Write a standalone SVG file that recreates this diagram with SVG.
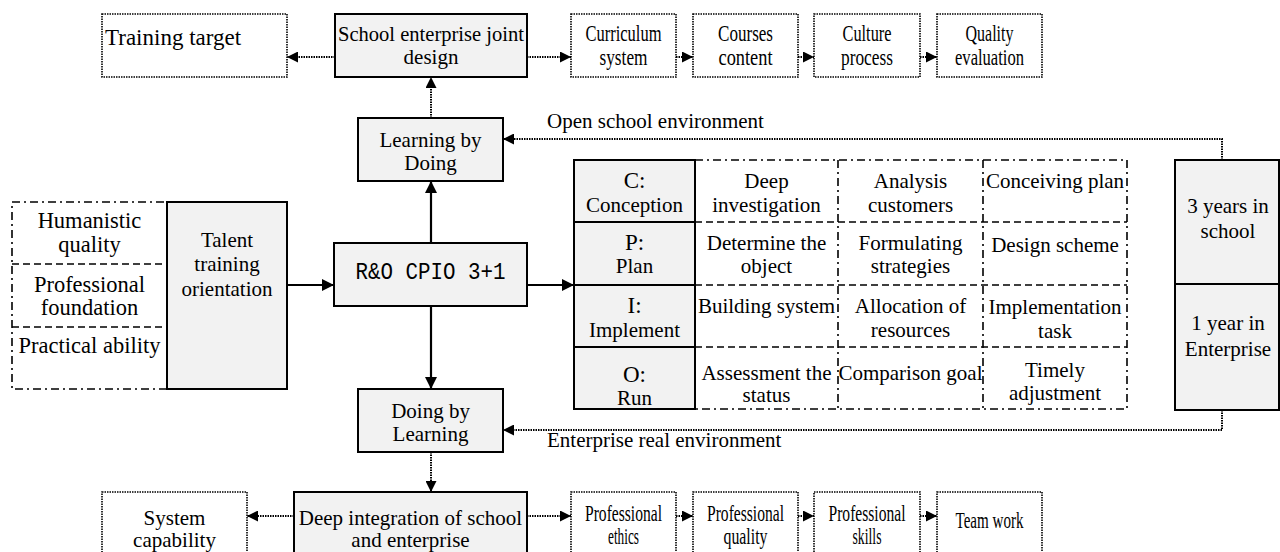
<svg xmlns="http://www.w3.org/2000/svg" width="1280" height="552" viewBox="0 0 1280 552">
<defs>
<marker id="ah" viewBox="0 0 10 10" refX="10" refY="5" markerWidth="11" markerHeight="11" markerUnits="userSpaceOnUse" orient="auto">
<path d="M0,0 L10,5 L0,10 z" fill="#000"/>
</marker>
<marker id="ahb" viewBox="0 0 10 10" refX="10" refY="5" markerWidth="12" markerHeight="12" markerUnits="userSpaceOnUse" orient="auto">
<path d="M0,0 L10,5 L0,10 z" fill="#000"/>
</marker>
</defs>
<style>
text{font-family:'Liberation Serif','Tinos','DejaVu Serif',serif;font-size:21px;fill:#000;text-anchor:middle}
.big{font-size:23px}
.grp{font-size:22.5px}
.lft{text-anchor:start}
.mono{font-family:'Liberation Mono','DejaVu Sans Mono',monospace;font-size:23px}
.dotbox{fill:#fff;stroke:#000;stroke-width:1.6;stroke-dasharray:1.5 1}
.solid{fill:#f2f2f2;stroke:#000;stroke-width:2}
.dashdot{fill:none;stroke:#000;stroke-width:1.6;stroke-dasharray:8 4 2 4}
.dash{fill:none;stroke:#000;stroke-width:1.6;stroke-dasharray:7 4}
.sl{fill:none;stroke:#000;stroke-width:2}
.dc{fill:none;stroke:#000;stroke-width:2;stroke-dasharray:1.5 1;marker-end:url(#ah)}
.sc{fill:none;stroke:#000;stroke-width:2.2;marker-end:url(#ahb)}
</style>
<rect width="1280" height="552" fill="#fff"/>

<g id="connectors">
<line class="dc" x1="335" y1="57" x2="287" y2="57"/>
<line class="dc" x1="527" y1="57" x2="571" y2="57"/>
<line class="dc" x1="676" y1="57" x2="693" y2="57"/>
<line class="dc" x1="798" y1="57" x2="814" y2="57"/>
<line class="dc" x1="920" y1="57" x2="937" y2="57"/>
<line class="dc" x1="431" y1="118" x2="431" y2="77"/>
<line class="sc" x1="431" y1="243" x2="431" y2="181"/>
<line class="sc" x1="431" y1="306" x2="431" y2="389"/>
<line class="sc" x1="287" y1="285" x2="334" y2="285"/>
<line class="sc" x1="527" y1="285" x2="574" y2="285"/>
<polyline class="dc" points="1222,160 1222,139 503,139"/>
<polyline class="dc" points="1222,410 1222,430 503,430"/>
<line class="dc" x1="431" y1="452" x2="431" y2="492"/>
<line class="dc" x1="294" y1="516" x2="247" y2="516"/>
<line class="dc" x1="527" y1="516" x2="571" y2="516"/>
<line class="dc" x1="676" y1="516" x2="693" y2="516"/>
<line class="dc" x1="798" y1="516" x2="814" y2="516"/>
<line class="dc" x1="920" y1="516" x2="937" y2="516"/>
<text class="lft" x="547" y="128">Open school environment</text>
<text class="lft" x="547" y="447">Enterprise real environment</text>
</g>

<g id="training-target">
<rect class="dotbox" x="102" y="14" width="185" height="63"/>
<text class="big lft" x="105" y="45">Training target</text>
</g>
<g id="school-enterprise-design">
<rect class="solid" x="335" y="14" width="192" height="63"/>
<text x="431" y="41" textLength="186" lengthAdjust="spacingAndGlyphs">School enterprise joint</text>
<text x="431" y="64">design</text>
</g>
<g id="curriculum-system">
<rect class="dotbox" x="571" y="14" width="105" height="63"/>
<text class="big" x="623.5" y="41" textLength="76" lengthAdjust="spacingAndGlyphs">Curriculum</text>
<text class="big" x="623.5" y="65" textLength="48" lengthAdjust="spacingAndGlyphs">system</text>
</g>
<g id="courses-content">
<rect class="dotbox" x="693" y="14" width="105" height="63"/>
<text class="big" x="745.5" y="41" textLength="55" lengthAdjust="spacingAndGlyphs">Courses</text>
<text class="big" x="745.5" y="65" textLength="54" lengthAdjust="spacingAndGlyphs">content</text>
</g>
<g id="culture-process">
<rect class="dotbox" x="814" y="14" width="106" height="63"/>
<text class="big" x="867" y="41" textLength="49" lengthAdjust="spacingAndGlyphs">Culture</text>
<text class="big" x="867" y="65" textLength="52" lengthAdjust="spacingAndGlyphs">process</text>
</g>
<g id="quality-evaluation">
<rect class="dotbox" x="937" y="14" width="105" height="63"/>
<text class="big" x="989.5" y="41" textLength="48" lengthAdjust="spacingAndGlyphs">Quality</text>
<text class="big" x="989.5" y="65" textLength="69" lengthAdjust="spacingAndGlyphs">evaluation</text>
</g>

<g id="learning-by-doing">
<rect class="solid" x="358" y="118" width="145" height="63"/>
<text x="430.5" y="147">Learning by</text>
<text x="430.5" y="170">Doing</text>
</g>
<g id="doing-by-learning">
<rect class="solid" x="358" y="389" width="145" height="63"/>
<text x="430.5" y="418">Doing by</text>
<text x="430.5" y="441">Learning</text>
</g>
<g id="rno-cpio">
<rect class="solid" x="334" y="243" width="193" height="63"/>
<text class="mono" x="430.5" y="279" textLength="150" lengthAdjust="spacingAndGlyphs">R&amp;O CPIO 3+1</text>
</g>

<g id="talent-attributes">
<rect class="dashdot" x="12" y="202" width="155" height="187"/>
<line class="dash" x1="12" y1="264" x2="167" y2="264"/>
<line class="dash" x1="12" y1="327" x2="167" y2="327"/>
<text class="grp" x="89.5" y="228">Humanistic</text>
<text class="grp" x="89.5" y="252">quality</text>
<text class="grp" x="89.5" y="292">Professional</text>
<text class="grp" x="89.5" y="315">foundation</text>
<text class="grp" x="89.5" y="353">Practical ability</text>
</g>
<g id="talent-training">
<rect class="solid" x="167" y="202" width="120" height="187"/>
<text x="227" y="247">Talent</text>
<text x="227" y="271">training</text>
<text x="227" y="296">orientation</text>
</g>

<g id="cpio-table">
<rect class="solid" x="574" y="160" width="121" height="249"/>
<line class="sl" x1="574" y1="222" x2="695" y2="222"/>
<line class="sl" x1="574" y1="285" x2="695" y2="285"/>
<line class="sl" x1="574" y1="347" x2="695" y2="347"/>
<path class="dashdot" d="M695,160 H1127 V409 H695"/>
<line class="dashdot" x1="838" y1="160" x2="838" y2="409"/>
<line class="dashdot" x1="983" y1="160" x2="983" y2="409"/>
<line class="dash" x1="695" y1="222" x2="1127" y2="222"/>
<line class="dash" x1="695" y1="285" x2="1127" y2="285"/>
<line class="dash" x1="695" y1="347" x2="1127" y2="347"/>
<text class="big" x="634.5" y="188">C:</text>
<text x="634.5" y="212">Conception</text>
<text class="big" x="634.5" y="250">P:</text>
<text x="634.5" y="273">Plan</text>
<text class="big" x="634.5" y="313">I:</text>
<text x="634.5" y="337">Implement</text>
<text class="big" x="634.5" y="382">O:</text>
<text x="634.5" y="405">Run</text>
<text x="766.5" y="380">Assessment the</text>
<text x="766.5" y="402">status</text>
<text x="766.5" y="188">Deep</text>
<text x="766.5" y="212">investigation</text>
<text x="910.5" y="188">Analysis</text>
<text x="910.5" y="212">customers</text>
<text x="1055" y="188">Conceiving plan</text>
<text x="766.5" y="250">Determine the</text>
<text x="766.5" y="273">object</text>
<text x="910.5" y="250">Formulating</text>
<text x="910.5" y="273">strategies</text>
<text x="1055" y="252">Design scheme</text>
<text x="766.5" y="313">Building system</text>
<text x="910.5" y="313">Allocation of</text>
<text x="910.5" y="337">resources</text>
<text x="1055" y="314">Implementation</text>
<text x="1055" y="338">task</text>
<text x="910.5" y="380">Comparison goal</text>
<text x="1055" y="377">Timely</text>
<text x="1055" y="400">adjustment</text>
</g>

<g id="school-enterprise-years">
<rect class="solid" x="1175" y="160" width="104" height="250"/>
<line class="sl" x1="1175" y1="284" x2="1279" y2="284"/>
<text x="1228" y="213">3 years in</text>
<text x="1228" y="238">school</text>
<text x="1228" y="330">1 year in</text>
<text x="1228" y="356">Enterprise</text>
</g>

<g id="system-capability">
<rect class="dotbox" x="102" y="492" width="145" height="64"/>
<text x="174.5" y="525">System</text>
<text x="174.5" y="547">capability</text>
</g>
<g id="deep-integration">
<rect class="solid" x="294" y="492" width="233" height="64"/>
<text x="410.5" y="525">Deep integration of school</text>
<text x="410.5" y="547">and enterprise</text>
</g>
<g id="professional-ethics">
<rect class="dotbox" x="571" y="492" width="105" height="64"/>
<text class="big" x="623.5" y="521" textLength="77" lengthAdjust="spacingAndGlyphs">Professional</text>
<text class="big" x="623.5" y="544" textLength="31" lengthAdjust="spacingAndGlyphs">ethics</text>
</g>
<g id="professional-quality">
<rect class="dotbox" x="693" y="492" width="105" height="64"/>
<text class="big" x="745.5" y="521" textLength="77" lengthAdjust="spacingAndGlyphs">Professional</text>
<text class="big" x="745.5" y="544" textLength="44" lengthAdjust="spacingAndGlyphs">quality</text>
</g>
<g id="professional-skills">
<rect class="dotbox" x="814" y="492" width="106" height="64"/>
<text class="big" x="867" y="521" textLength="77" lengthAdjust="spacingAndGlyphs">Professional</text>
<text class="big" x="867" y="544" textLength="29" lengthAdjust="spacingAndGlyphs">skills</text>
</g>
<g id="team-work">
<rect class="dotbox" x="937" y="492" width="105" height="64"/>
<text class="big" x="989.5" y="528" textLength="68" lengthAdjust="spacingAndGlyphs">Team work</text>
</g>
</svg>
